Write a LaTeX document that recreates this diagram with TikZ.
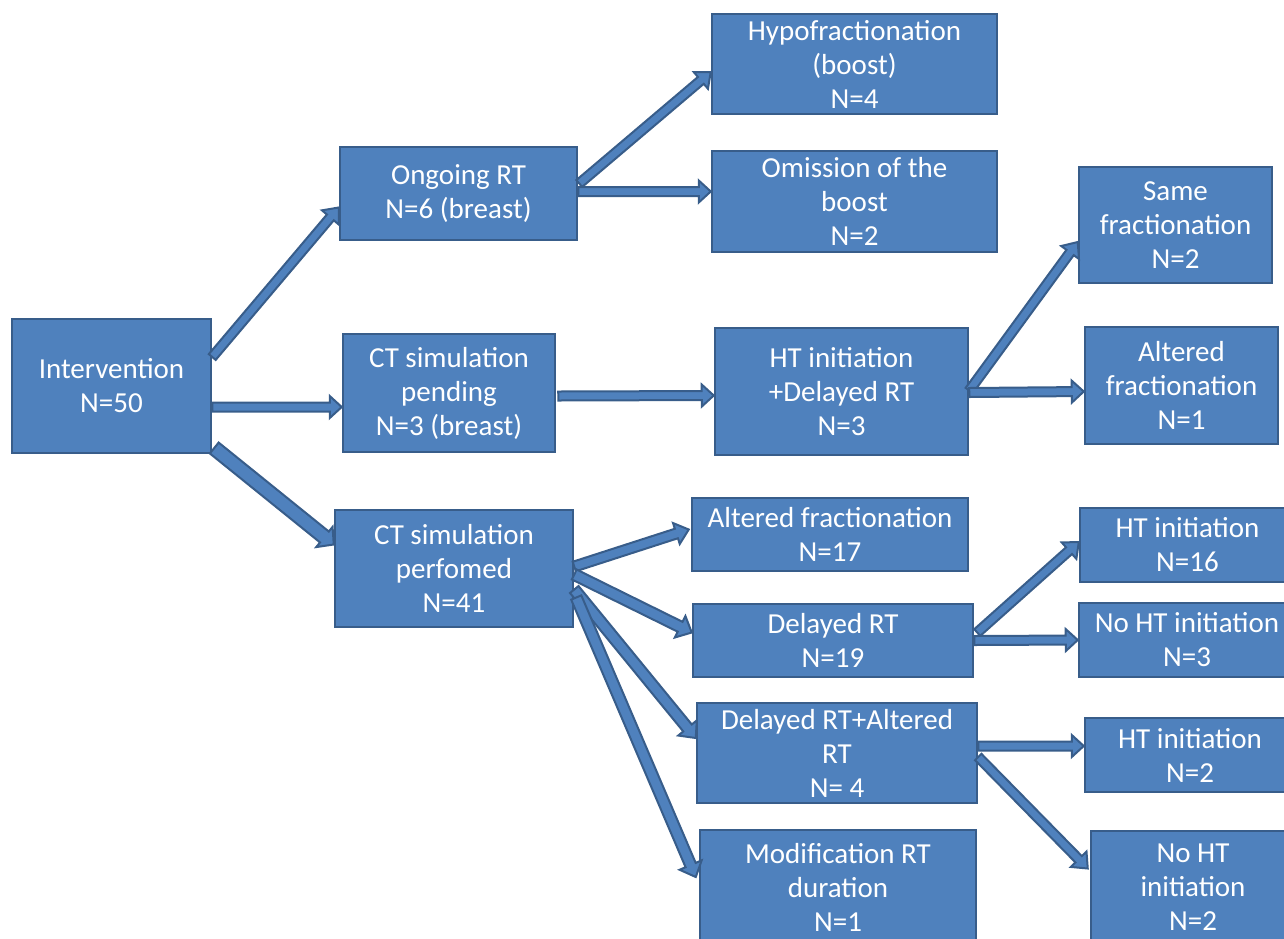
\documentclass[tikz,border=0pt]{standalone}
\usepackage{fontspec}
\setmainfont{Carlito}
\usetikzlibrary{calc}
\definecolor{boxfill}{HTML}{4F81BD}
\definecolor{boxline}{HTML}{385D8A}
\tikzset{
  box/.style={draw=boxline, fill=boxfill, line width=2.5pt, text=white, align=center,
    inner sep=0pt, font=\fontsize{29}{34}\selectfont},
  sz/.style 2 args={minimum width=#1pt, minimum height=#2pt},
  blockarrow/.style={draw=boxline, fill=boxfill, line width=2pt, line join=miter}
}
\newcommand\barrow[5]{%
  \coordinate (ba) at (#4);
  \coordinate (bb) at (#5);
  \coordinate (bc) at ($(bb)!#3!(ba)$);
  \filldraw[blockarrow] ($(ba)!#1!90:(bb)$) -- ($(bc)!#1!-90:(ba)$) -- ($(bc)!#2!-90:(ba)$)
    -- (bb) -- ($(bc)!#2!90:(ba)$) -- ($(bc)!#1!90:(ba)$) -- ($(ba)!#1!-90:(bb)$) -- cycle;}
\begin{document}
\begin{tikzpicture}[x=1pt, y=-1pt]
\useasboundingbox (0,0) rectangle (1284,938);
\clip (0,0) rectangle (1284,938);
% nodes
\node[box, sz={199}{134}] (int) at (111.5,386) {Intervention\\N=50};
\node[box, sz={237}{93}] (ong) at (458.5,193.5) {Ongoing RT\\N=6 (breast)};
\node[box, sz={212}{118}] (pend) at (449,393) {CT simulation\\pending\\N=3 (breast)};
\node[box, sz={238}{117}] (perf) at (454,568.5) {CT simulation\\perfomed\\N=41};
\node[box, sz={285}{100}] (hypo) at (854.5,64) {Hypofractionation\\(boost)\\N=4};
\node[box, sz={285}{101}] (omis) at (854.5,201.5) {Omission of the\\boost\\N=2};
\node[box, sz={253}{127}] (htd) at (841.5,391.5) {HT initiation\\+Delayed RT\\N=3};
\node[box, sz={193}{116}] (same) at (1175.5,225) {Same\\fractionation\\N=2};
\node[box, sz={193}{117}] (altf) at (1181.5,385.5) {Altered\\fractionation\\N=1};
\node[box, sz={276}{73}] (alt17) at (830,534.5) {Altered fractionation\\N=17};
\node[box, sz={280}{73}] (del) at (833,640.5) {Delayed RT\\N=19};
\node[box, sz={280}{100}] (dal) at (837,753) {Delayed RT+Altered\\RT\\N= 4};
\node[box, sz={276}{114}] (mod) at (838,887) {Modification RT\\duration\\N=1};
\node[box, sz={215}{74}] (ht16) at (1187.5,545) {HT initiation\\N=16};
\node[box, sz={216}{74}] (noht3) at (1187,640) {No HT initiation\\N=3};
\node[box, sz={210}{74}] (ht2) at (1190,755) {HT initiation\\N=2};
\node[box, sz={204}{113}] (noht2) at (1193,887.5) {No HT\\initiation\\N=2};
% connectors
\barrow{4.5pt}{11pt}{13pt}{[yshift=29pt]int.east}{[yshift=-14pt]ong.west}
\barrow{4.5pt}{11pt}{12pt}{[yshift=-21pt]int.east}{[yshift=-14pt]pend.west}
\barrow{7pt}{13pt}{12pt}{[xshift=2pt,yshift=-62pt]int.east}{[yshift=24pt]perf.west}
\barrow{4.5pt}{11pt}{13pt}{[xshift=1pt,yshift=10pt]ong.east}{[yshift=-8pt]hypo.west}
\barrow{4.5pt}{11pt}{12pt}{[yshift=2pt]ong.east}{[yshift=10pt]omis.west}
\barrow{4.5pt}{11pt}{12pt}{[xshift=2pt,yshift=-3pt]pend.east}{[yshift=-4pt]htd.west}
\barrow{4.5pt}{11pt}{13pt}{[yshift=1pt]htd.east}{[yshift=-17pt]same.west}
\barrow{4.5pt}{11pt}{12pt}{[yshift=-1pt]htd.east}{[yshift=-6pt]altf.west}
\barrow{5pt}{11pt}{13pt}{[yshift=2pt]perf.east}{[xshift=-2pt,yshift=5pt]alt17.west}
\barrow{5.5pt}{12pt}{13pt}{[yshift=-6pt]perf.east}{[yshift=8pt]del.west}
\barrow{5.5pt}{12pt}{13pt}{[yshift=-21pt]perf.east}{[yshift=15pt]dal.west}
\barrow{5.5pt}{12pt}{13pt}{[xshift=2pt,yshift=-29pt]perf.east}{[xshift=-3pt,yshift=10pt]mod.west}
\barrow{4.5pt}{11pt}{13pt}{[xshift=3pt,yshift=8pt]del.east}{[yshift=3pt]ht16.west}
\barrow{4.5pt}{11pt}{12pt}{del.east}{noht3.west}
\barrow{4.5pt}{11pt}{12pt}{[yshift=7pt]dal.east}{[yshift=9pt]ht2.west}
\barrow{4.5pt}{11pt}{13pt}{[yshift=-4pt]dal.east}{[xshift=-2pt,yshift=19pt]noht2.west}
\end{tikzpicture}
\end{document}
